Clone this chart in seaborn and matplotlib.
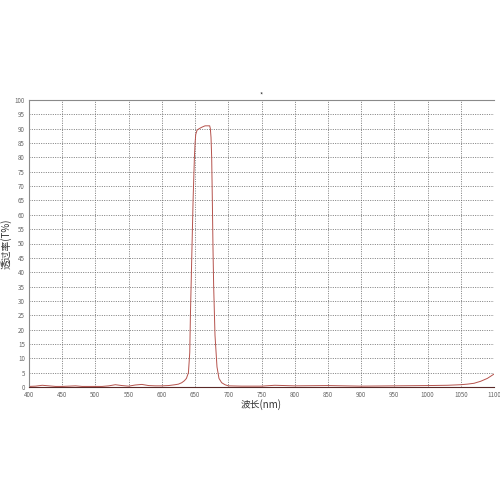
import pandas as pd
import matplotlib
matplotlib.use("Agg")
import matplotlib.pyplot as plt
import seaborn as sns

# transmission spectrum
wavelength = [400, 410, 420, 430, 440, 450, 460, 470, 480, 490, 500, 510, 520, 530,
              540, 550, 560, 570, 580, 590, 600, 610, 620, 625, 630, 634, 637, 640,
              642, 643, 645, 647, 649, 650, 651, 653, 656, 660, 665, 670, 672, 673,
              674, 675, 676, 677, 678, 680, 683, 686, 690, 695, 700, 720, 750, 770,
              800, 850, 900, 950, 1000, 1030, 1050, 1060, 1070, 1080, 1090, 1100]
transmit = [0.2, 0.3, 0.6, 0.4, 0.2, 0.2, 0.3, 0.4, 0.2, 0.2, 0.2, 0.2, 0.4, 0.8,
            0.5, 0.3, 0.7, 0.9, 0.5, 0.4, 0.4, 0.5, 0.8, 1.0, 1.5, 2.2, 3.0, 5.0,
            12, 25, 45, 65, 80, 85, 88, 89.5, 90, 90.5, 91, 91, 91, 90,
            87, 80, 65, 48, 35, 18, 7, 3, 1.5, 0.8, 0.4, 0.3, 0.3, 0.6,
            0.4, 0.5, 0.3, 0.4, 0.5, 0.6, 0.8, 1.0, 1.3, 2.0, 3.0, 4.5]

x_ticks = list(range(400, 1101, 50))
y_ticks = list(range(0, 101, 5))

df = pd.DataFrame({"wl": wavelength, "t": transmit})

sns.set_style("white")
plt.rcParams["font.family"] = ["Noto Sans CJK SC", "DejaVu Sans"]

fig = plt.figure(figsize=(5, 5), dpi=100)
ax = fig.add_axes([0.058, 0.226, 0.93, 0.574])

sns.lineplot(data=df, x="wl", y="t", ax=ax, color="#b5524c", linewidth=0.7)

ax.set_xlim(400, 1100)
ax.set_ylim(0, 100)
ax.set_xticks(x_ticks)
ax.set_yticks(y_ticks)
ax.tick_params(labelsize=4.5, colors="#666666", length=0)
ax.tick_params(axis="x", pad=3)
ax.tick_params(axis="y", pad=3)
ax.grid(True, color="#6a6a6a", linestyle=(0, (1.2, 1.6)), linewidth=0.6)
for side, sp in ax.spines.items():
    sp.set_color("#8a8a8a")
    sp.set_linewidth(0.8)
ax.spines["bottom"].set_color("#5a2a28")
ax.spines["right"].set_visible(False)

ax.set_xlabel("波长(nm)", fontsize=7, color="#333333", labelpad=0)
ax.set_ylabel("透过率(T%)", fontsize=7, color="#333333", labelpad=2)
ax.set_title("*", fontsize=5, color="#333333", pad=2)

fig.savefig("out.png", dpi=100)
